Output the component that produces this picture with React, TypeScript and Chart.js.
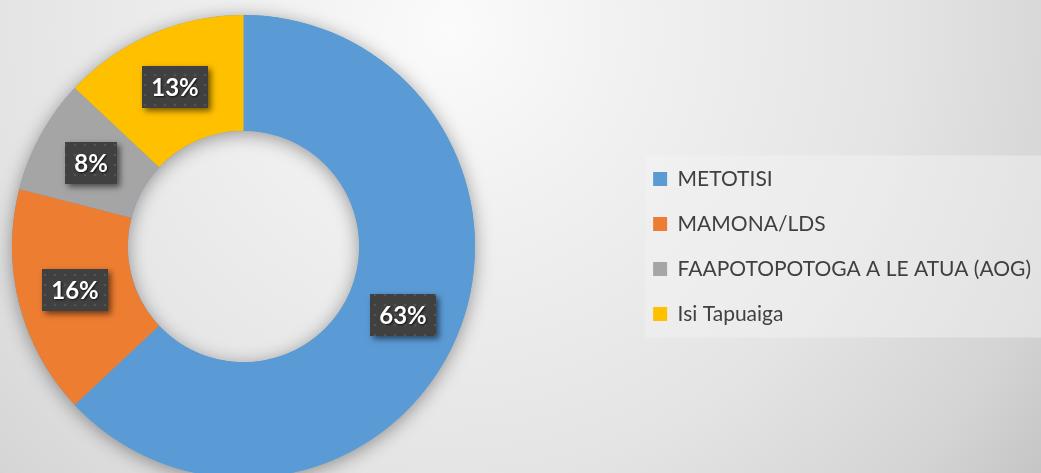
import React, { useEffect, useRef } from "react";
import { Chart, registerables } from "chart.js";

Chart.register(...registerables);

// ---- data ----
const categories = ["METOTISI", "MAMONA/LDS", "FAAPOTOPOTOGA A LE ATUA (AOG)", "Isi Tapuaiga"];
const shares = [63, 16, 8, 13];
const sliceColors = ["#5B9BD5", "#ED7D31", "#A5A5A5", "#FFC000"];

function makeDotPattern(ctx: CanvasRenderingContext2D) {
  const c = document.createElement("canvas");
  c.width = 10;
  c.height = 10;
  const p = c.getContext("2d")!;
  p.fillStyle = "#404040";
  p.fillRect(0, 0, 10, 10);
  p.fillStyle = "rgba(255,255,255,0.10)";
  p.beginPath();
  p.arc(5, 5, 1.3, 0, Math.PI * 2);
  p.fill();
  return ctx.createPattern(c, "repeat");
}

const placeRing = {
  id: "placeRing",
  afterLayout(chart: any) {
    const ca = chart.chartArea;
    ca.left = 12;
    ca.top = 15;
    ca.right = 475;
    ca.bottom = 478;
    ca.width = 463;
    ca.height = 463;
  },
};

const legendBackground = {
  id: "legendBackground",
  beforeDraw(chart: any) {
    const lg = chart.legend;
    if (!lg || !lg.legendHitBoxes || !lg.legendHitBoxes.length) return;
    const hb = lg.legendHitBoxes;
    const first = hb[0];
    const last = hb[hb.length - 1];
    const ctx = chart.ctx;
    ctx.save();
    ctx.fillStyle = "rgba(245,245,245,0.45)";
    const x = first.left - 8;
    const y = first.top - 13;
    ctx.fillRect(x, y, chart.width - x, last.top + last.height + 13 - y);
    ctx.restore();
  },
};

const ringShadow = {
  id: "ringShadow",
  beforeDatasetsDraw(chart: any) {
    const meta = chart.getDatasetMeta(0);
    const arc: any = meta.data[0];
    if (!arc) return;
    const { x, y, outerRadius, innerRadius } = arc;
    const ctx = chart.ctx;
    ctx.save();
    ctx.shadowColor = "rgba(0,0,0,0.38)";
    ctx.shadowBlur = 18;
    ctx.shadowOffsetY = 3;
    ctx.beginPath();
    ctx.arc(x, y, outerRadius, 0, Math.PI * 2);
    ctx.arc(x, y, innerRadius, 0, Math.PI * 2, true);
    ctx.fillStyle = "#5B9BD5";
    ctx.fill();
    ctx.restore();
  },
};

const percentLabels = {
  id: "percentLabels",
  afterDatasetsDraw(chart: any) {
    const ctx: CanvasRenderingContext2D = chart.ctx;
    const meta = chart.getDatasetMeta(0);
    const pattern = makeDotPattern(ctx);
    meta.data.forEach((arc: any, i: number) => {
      const { x, y } = arc.getCenterPoint();
      const text = `${chart.data.datasets[0].data[i]}%`;
      ctx.save();
      ctx.font = "bold 24px Lato";
      const tw = ctx.measureText(text).width;
      const w = Math.round(tw + 18);
      const h = 42;
      const bx = Math.round(x - w / 2);
      const by = Math.round(y - h / 2);
      ctx.shadowColor = "rgba(0,0,0,0.55)";
      ctx.shadowBlur = 6;
      ctx.shadowOffsetX = 3;
      ctx.shadowOffsetY = 3;
      ctx.fillStyle = "#404040";
      ctx.fillRect(bx, by, w, h);
      ctx.shadowColor = "transparent";
      ctx.fillStyle = pattern || "#404040";
      ctx.fillRect(bx, by, w, h);
      ctx.shadowColor = "rgba(0,0,0,0.7)";
      ctx.shadowBlur = 2;
      ctx.shadowOffsetX = 1;
      ctx.shadowOffsetY = 1;
      ctx.fillStyle = "#ffffff";
      ctx.textAlign = "center";
      ctx.textBaseline = "middle";
      ctx.fillText(text, bx + w / 2, by + h / 2 + 1);
      ctx.restore();
    });
  },
};

export default function App() {
  const canvasRef = useRef<HTMLCanvasElement | null>(null);

  useEffect(() => {
    if (!canvasRef.current) return;
    const chart = new Chart(canvasRef.current, {
      type: "doughnut",
      data: {
        labels: categories,
        datasets: [
          {
            data: shares,
            backgroundColor: sliceColors,
            borderWidth: 0,
            hoverOffset: 0,
          },
        ],
      },
      options: {
        animation: false,
        responsive: false,
        cutout: "50%",
        layout: { padding: 0 },
        plugins: {
          tooltip: { enabled: false },
          legend: {
            position: "right",
            align: "center",
            labels: {
              boxWidth: 14,
              boxHeight: 14,
              padding: 24,
              color: "#404040",
              font: { family: "Lato", size: 21 },
            },
          },
        },
      },
      plugins: [placeRing, legendBackground, ringShadow, percentLabels],
    } as any);
    return () => chart.destroy();
  }, []);

  return (
    <div
      style={{
        position: "fixed",
        left: 0,
        top: 0,
        width: 1041,
        height: 473,
        overflow: "hidden",
        background:
          "radial-gradient(circle 780px at 450px 30px, #fbfbfb 0px, #f1f1f1 180px, #e4e4e4 450px, #d4d4d4 640px, #c4c4c4 745px, #c2c2c2 780px)",
      }}
    >
      <canvas ref={canvasRef} width={1041} height={493} style={{ display: "block" }} />
    </div>
  );
}
